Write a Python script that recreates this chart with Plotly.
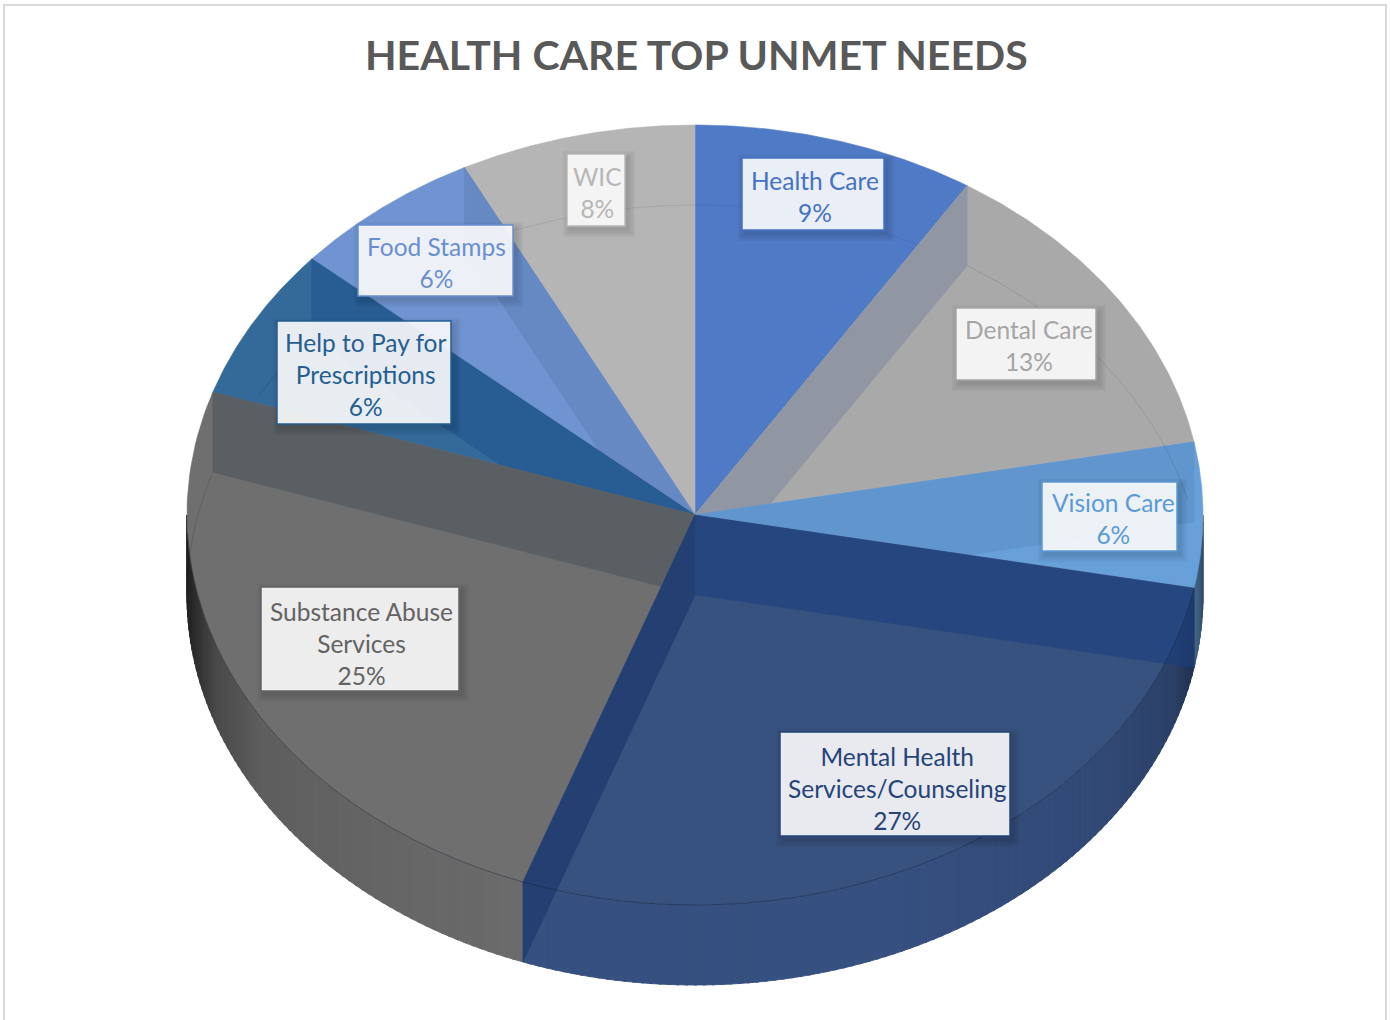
import numpy as np
import plotly.graph_objects as go

# ---------- data ----------
TITLE = "HEALTH CARE TOP UNMET NEEDS"
categories = ["Health Care", "Dental Care", "Vision Care", "Mental Health<br>Services/Counseling",
              "Substance Abuse<br>Services", "Help to Pay for<br>Prescriptions", "Food Stamps", "WIC"]
shares = [9.0, 13.0, 6.0, 27.5, 24.6, 6.3, 6.1, 7.5]
shown_pct = ["9%", "13%", "6%", "27%", "25%", "6%", "6%", "8%"]

# ---------- style ----------
face = ["#4f7ac5", "#a9a9a9", "#68a0da", "#38527f", "#6f6f6f", "#336a9a", "#7094d1", "#b5b5b5"]
wall = ["#9097a3", "#6096cd", "rgba(27,64,127,0.6)", "#243f72", "#5a5f63", "#285d93", "#6689c4", "#b5b5b5"]
rim = ["#4f7ac5", "#a9a9a9", "#68a0da", "#365080", "#6c6c6c", "#336a9a", "#7094d1", "#b5b5b5"]
text_col = ["#4472c4", "#a5a5a5", "#5b9bd5", "#264478", "#636363", "#255e91", "#698ed0", "#b7b7b7"]
CX, CY, RX, RY, DEPTH = 695, 515, 508, 390, 80
# label boxes (left, right, top, bottom) and label text centres, in page pixels
boxes = [(742, 884, 158, 230), (956, 1096, 308, 380), (1042, 1177, 482, 551), (780, 1010, 732, 836),
         (261, 459, 587, 691), (277, 451, 321, 424), (358, 513, 225, 296), (567, 625, 154, 226)]
text_xy = [(815, 196), (1028.5, 345), (1113, 518.5), (897, 788), (361, 643), (365.5, 374.5), (436.5, 262.5), (597, 192)]

edges = np.concatenate([[0], np.cumsum(shares)]) / sum(shares) * 360.0


def pt(t, dy=0.0):
    r = np.radians(t)
    return CX + RX * np.sin(r), CY - RY * np.cos(r) + dy


fig = go.Figure()


def poly(xs, ys, color, lw=0.6):
    fig.add_trace(go.Scatter(x=list(xs) + [xs[0]], y=list(ys) + [ys[0]], mode="lines", fill="toself",
                             fillcolor=color, line=dict(color=color, width=lw), hoverinfo="skip",
                             showlegend=False))


def draw_face(i):
    t = np.linspace(edges[i], edges[i + 1], 80)
    x, y = pt(t)
    poly([CX] + list(x), [CY] + list(y), face[i])


def draw_wall(edge_index, color):
    a = edges[edge_index]
    x, y = pt(a)
    poly([CX, x, x, CX], [CY, y, y + DEPTH, CY + DEPTH], color, 0 if color.startswith("rgba") else 0.6)


def shade(x):
    left = np.interp(x, [187, 200, 215, 260, 400, 523], [.32, .5, .68, .88, .95, 1.0])
    right = np.interp(x, [900, 1100, 1170, 1197, 1204], [1.0, .92, .82, .6, .45])
    return min(left, right)


def scaled(hexcol, m):
    r, g, b = [int(hexcol[k:k + 2], 16) for k in (1, 3, 5)]
    return f"rgb({int(r * m)},{int(g * m)},{int(b * m)})"


def arc(t0, t1, dy, color, width=1.0):
    t = np.linspace(t0, t1, 60)
    x, y = pt(t, dy)
    fig.add_trace(go.Scatter(x=x, y=y, mode="lines", line=dict(color=color, width=width),
                             hoverinfo="skip", showlegend=False))


# side rim, front half only
for i in range(len(shares)):
    lo, hi = max(edges[i], 90.0), min(edges[i + 1], 270.0)
    if hi <= lo:
        continue
    for s in np.arange(lo, hi, 1.0):
        e = min(s + 1.3, hi)
        x0, y0 = pt(s)
        x1, y1 = pt(e)
        poly([x0, x1, x1, x0], [y0, y1, y1 + DEPTH, y0 + DEPTH], scaled(rim[i], shade((x0 + x1) / 2)), 0.9)

# faces and inner walls, back to front
draw_face(0)
draw_face(7)
draw_face(6)
draw_wall(7, wall[6])
draw_face(5)
draw_wall(6, wall[5])
draw_face(4)
draw_wall(5, wall[4])
draw_face(1)
draw_wall(1, wall[0])
draw_face(2)
draw_wall(2, wall[1])
draw_face(3)
draw_wall(3, wall[2])
draw_wall(4, wall[3])

# faint lines: back rim seen through the top, front rim edge
arc(-24, 26, DEPTH, "rgba(40,60,110,0.12)")
arc(32.5, 76, DEPTH, "rgba(0,0,0,0.10)")
arc(-59, -52, DEPTH, "rgba(0,0,0,0.15)")
arc(-88, -72, DEPTH, "rgba(0,0,0,0.15)")
arc(edges[3], edges[5] - 21, 0, "rgba(20,30,50,0.45)", 1.0)

# frame, label shadows, label boxes
shapes = [dict(type="rect", xref="x", yref="y", x0=4, x1=1386, y0=5, y1=1040,
               line=dict(color="#d9d9d9", width=2), fillcolor="rgba(0,0,0,0)", layer="below")]
for (l, r, t, b), col in zip(boxes, text_col):
    for grow in (7, 5, 3, 1):
        shapes.append(dict(type="rect", xref="x", yref="y", x0=l + 3 - grow, x1=r + 3 + grow,
                           y0=t + 4 - grow, y1=b + 4 + grow, line=dict(width=0),
                           fillcolor="rgba(0,0,0,0.035)", layer="above"))
    shapes.append(dict(type="rect", xref="x", yref="y", x0=l, x1=r, y0=t, y1=b, layer="above",
                       line=dict(color=col, width=1.5), fillcolor="rgba(255,255,255,0.89)"))

# labels
annots = [dict(x=696, y=54.5, xref="x", yref="y", text=f"<b>{TITLE}</b>", showarrow=False,
               font=dict(family="Lato", size=41, color="#595959"), xanchor="center", yanchor="middle")]
for name, pct, col, (tx, ty) in zip(categories, shown_pct, text_col, text_xy):
    annots.append(dict(x=tx, y=ty, xref="x", yref="y", text=f"{name}<br>{pct}",
                       showarrow=False, align="center", xanchor="center", yanchor="middle",
                       font=dict(family="Lato", size=24.5, color=col)))

fig.update_layout(width=1390, height=1020, margin=dict(l=0, r=0, t=0, b=0), paper_bgcolor="white",
                  plot_bgcolor="white", showlegend=False, shapes=shapes, annotations=annots,
                  xaxis=dict(range=[0, 1390], visible=False, fixedrange=True),
                  yaxis=dict(range=[1020, 0], visible=False, fixedrange=True))
fig.write_html("out.html", config=dict(displayModeBar=False),
               post_script="document.body.style.margin='0';document.body.style.overflow='hidden';")
